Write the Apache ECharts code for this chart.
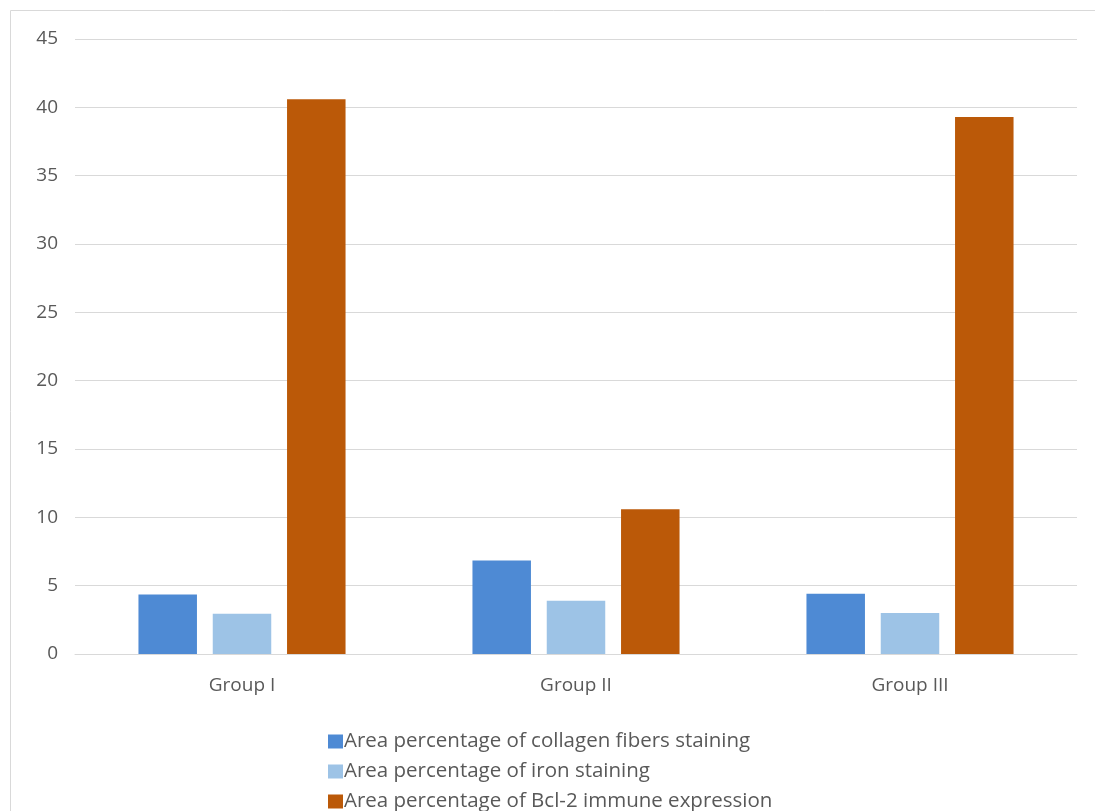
<!DOCTYPE html>
<html>
<head>
<meta charset="utf-8">
<script src="https://cdn.jsdelivr.net/npm/echarts@6/dist/echarts.min.js"></script>
<style>
  html, body { margin: 0; padding: 0; background: #fff; }
  #chart { width: 1095px; height: 811px; }
</style>
</head>
<body>
<div id="chart"></div>
<script>
// groups on the x axis
var groups = ['Group I', 'Group II', 'Group III'];
// series values
var collagen = [4.35, 6.85, 4.4];
var iron = [2.95, 3.9, 3.0];
var bcl2 = [40.6, 10.6, 39.3];
var seriesNames = [
    'Area percentage of collagen fibers staining',
    'Area percentage of iron staining',
    'Area percentage of Bcl-2 immune expression'
];

var myChart = echarts.init(document.getElementById('chart'));
var font = '"Open Sans", "Noto Sans", sans-serif';

// one legend per row so the column never wraps
var legendTops = [726, 756, 786];
var legends = seriesNames.map(function (name, i) {
    return {
        data: [name],
        left: 323,
        top: legendTops[i],
        itemWidth: 15,
        itemHeight: 14,
        icon: 'rect',
        textStyle: { fontSize: 20.5, color: '#595959', fontFamily: font, padding: [0, 0, 0, -4] }
    };
});

var option = {
    animation: false,
    color: ['#4e8ad4', '#9dc3e6', '#bb5908'],
    textStyle: { fontFamily: font },
    graphic: [{
        type: 'rect',
        shape: { x: 10.5, y: 10.5, width: 1100, height: 900 },
        style: { fill: 'none', stroke: '#d9d9d9', lineWidth: 1 },
        silent: true
    }],
    legend: legends,
    grid: { left: 75, right: 18, top: 39, bottom: 157 },
    xAxis: {
        type: 'category',
        data: groups,
        axisLine: { lineStyle: { color: '#d9d9d9', width: 1 } },
        axisTick: { show: false },
        axisLabel: { fontSize: 19, color: '#595959', margin: 22 }
    },
    yAxis: {
        type: 'value',
        min: 0,
        max: 45,
        interval: 5,
        axisLine: { show: false },
        axisTick: { show: false },
        splitLine: { lineStyle: { color: '#d9d9d9', width: 1 } },
        axisLabel: { fontSize: 19, color: '#595959', margin: 17, align: 'right' }
    },
    series: [
        { name: seriesNames[0], type: 'bar', data: collagen, barGap: '27%', barCategoryGap: '38%' },
        { name: seriesNames[1], type: 'bar', data: iron },
        { name: seriesNames[2], type: 'bar', data: bcl2 }
    ]
};
myChart.setOption(option);
</script>
</body>
</html>
